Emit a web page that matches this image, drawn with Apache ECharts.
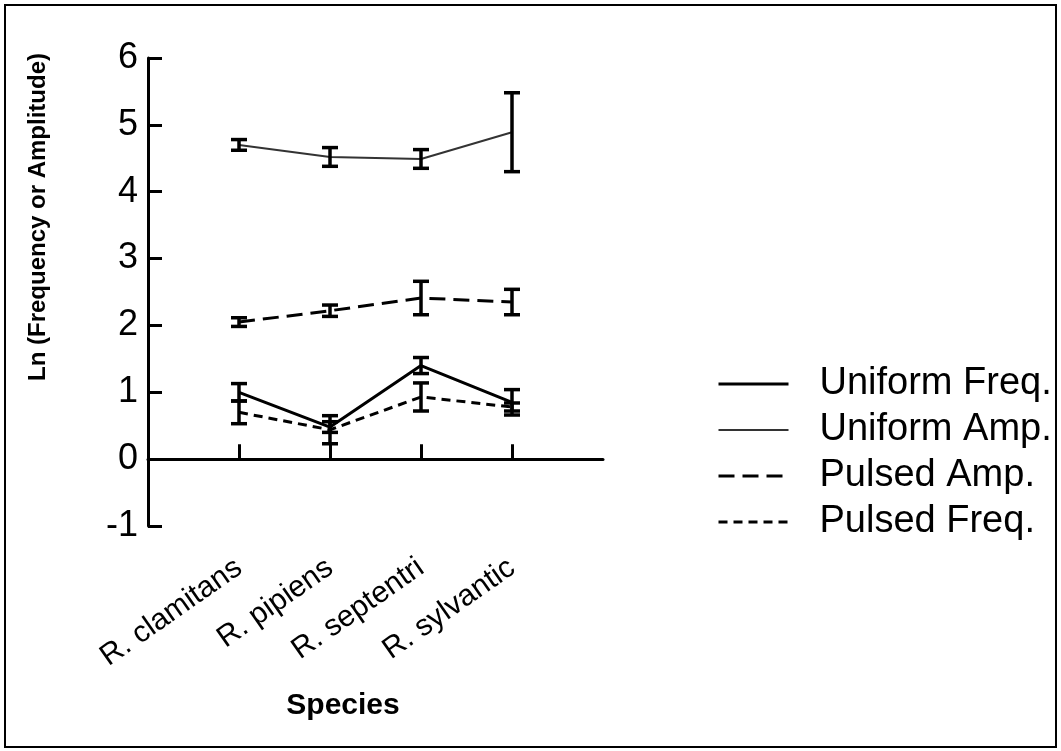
<!DOCTYPE html>
<html>
<head>
<meta charset="utf-8">
<script src="https://cdn.jsdelivr.net/npm/echarts@6/dist/echarts.min.js"></script>
<style>
  html, body { margin: 0; padding: 0; background: #fff; }
  #chart { width: 1061px; height: 751px; }
</style>
</head>
<body>
<div id="chart"></div>
<script>
// species on the x axis (blank slots at both ends keep the axis padding)
const species = ['R. clamitans', 'R. pipiens', 'R. septentri', 'R. sylvantic'];
const axisCats = [''].concat(species, ['']);

// means and error half-widths
const uniformFreq = [1.00, 0.48, 1.40, 0.85];
const uniformFreqErr = [0.13, 0.08, 0.12, 0.19];
const uniformAmp = [4.70, 4.52, 4.49, 4.89];
const uniformAmpErr = [0.08, 0.14, 0.14, 0.59];
const pulsedAmp = [2.05, 2.22, 2.41, 2.35];
const pulsedAmpErr = [0.065, 0.085, 0.25, 0.19];
const pulsedFreq = [0.70, 0.44, 0.93, 0.78];
const pulsedFreqErr = [0.17, 0.21, 0.21, 0.06];

const yTicks = [-1, 0, 1, 2, 3, 4, 5, 6];

const FONT = 'Liberation Sans, Arial, Helvetica, sans-serif';

// line looks, shared by the series and their legend samples
const styleUF = { color: '#000', width: 3 };
const styleUA = { color: '#333', width: 2 };
const stylePA = { color: '#000', width: 3, type: [16, 8] };
const stylePF = { color: '#000', width: 3, type: [9, 6] };

// pad a series with empty slots so values sit on the species ticks
function padLine(vals) {
  return ['-'].concat(vals, ['-']);
}

// error bar rows: [category index, low, high]
function errRows(vals, errs) {
  return vals.map((v, i) => [i + 1, v - errs[i], v + errs[i]]);
}

function renderErr(params, api) {
  const x = api.value(0);
  const lo = api.coord([x, api.value(1)]);
  const hi = api.coord([x, api.value(2)]);
  const half = 8;
  const style = { stroke: '#000', lineWidth: 3.5 };
  return {
    type: 'group',
    children: [
      { type: 'line', shape: { x1: hi[0], y1: hi[1], x2: lo[0], y2: lo[1] }, style: style },
      { type: 'line', shape: { x1: hi[0] - half, y1: hi[1], x2: hi[0] + half, y2: hi[1] }, style: style },
      { type: 'line', shape: { x1: lo[0] - half, y1: lo[1], x2: lo[0] + half, y2: lo[1] }, style: style }
    ]
  };
}

function errSeries(vals, errs) {
  return {
    type: 'custom',
    renderItem: renderErr,
    data: errRows(vals, errs),
    encode: { x: 0, y: [1, 2] },
    z: 5,
    silent: true
  };
}

function lineSeries(name, vals, style) {
  return {
    name: name,
    type: 'line',
    symbol: 'none',
    data: padLine(vals),
    lineStyle: style,
    itemStyle: { color: style.color },
    z: 4
  };
}

const chart = echarts.init(document.getElementById('chart'));

chart.setOption({
  backgroundColor: '#fff',
  animation: false,
  grid: { left: 148, right: 458, top: 58, bottom: 225, containLabel: false },
  legend: {
    orient: 'vertical',
    left: 717,
    top: 361,
    padding: 0,
    itemGap: 0,
    itemWidth: 70,
    itemHeight: 46,
    itemStyle: { opacity: 0 },
    data: [
      { name: 'Uniform Freq.', lineStyle: styleUF },
      { name: 'Uniform Amp.', lineStyle: styleUA },
      { name: 'Pulsed Amp.', lineStyle: stylePA },
      { name: 'Pulsed Freq.', lineStyle: stylePF }
    ],
    textStyle: {
      fontFamily: FONT,
      fontSize: 38,
      color: '#000',
      lineHeight: 46,
      padding: [0, 0, 0, 26]
    }
  },
  xAxis: {
    type: 'category',
    boundaryGap: false,
    data: axisCats,
    axisLine: { lineStyle: { color: '#000', width: 3 } },
    axisTick: {
      inside: true,
      length: 15,
      lineStyle: { color: '#000', width: 3 },
      interval: (idx, val) => val !== ''
    },
    axisLabel: {
      interval: 0,
      rotate: 35,
      margin: 39,
      fontFamily: FONT,
      fontSize: 30,
      color: '#000'
    },
    splitLine: { show: false }
  },
  yAxis: {
    type: 'value',
    min: yTicks[0],
    max: yTicks[yTicks.length - 1],
    interval: 1,
    axisLine: { show: true, lineStyle: { color: '#000', width: 3 } },
    axisTick: { show: true, inside: true, length: 14, lineStyle: { color: '#000', width: 3 } },
    axisLabel: { margin: 10, fontFamily: FONT, fontSize: 36, color: '#000' },
    splitLine: { show: false }
  },
  graphic: [
    {
      type: 'rect',
      shape: { x: 5, y: 5, width: 1051, height: 742 },
      style: { stroke: '#000', lineWidth: 2, fill: null },
      silent: true
    },
    {
      type: 'text',
      x: 38,
      y: 217,
      rotation: Math.PI / 2,
      style: {
        text: 'Ln (Frequency or Amplitude)',
        fontFamily: FONT,
        fontWeight: 'bold',
        fontSize: 24,
        fill: '#000',
        align: 'center',
        verticalAlign: 'middle'
      }
    },
    {
      type: 'text',
      x: 343,
      y: 706,
      style: {
        text: 'Species',
        fontFamily: FONT,
        fontWeight: 'bold',
        fontSize: 30,
        fill: '#000',
        align: 'center',
        verticalAlign: 'middle'
      }
    }
  ],
  series: [
    lineSeries('Uniform Freq.', uniformFreq, styleUF),
    lineSeries('Uniform Amp.', uniformAmp, styleUA),
    lineSeries('Pulsed Amp.', pulsedAmp, stylePA),
    lineSeries('Pulsed Freq.', pulsedFreq, stylePF),
    errSeries(uniformFreq, uniformFreqErr),
    errSeries(uniformAmp, uniformAmpErr),
    errSeries(pulsedAmp, pulsedAmpErr),
    errSeries(pulsedFreq, pulsedFreqErr)
  ]
});
</script>
</body>
</html>
